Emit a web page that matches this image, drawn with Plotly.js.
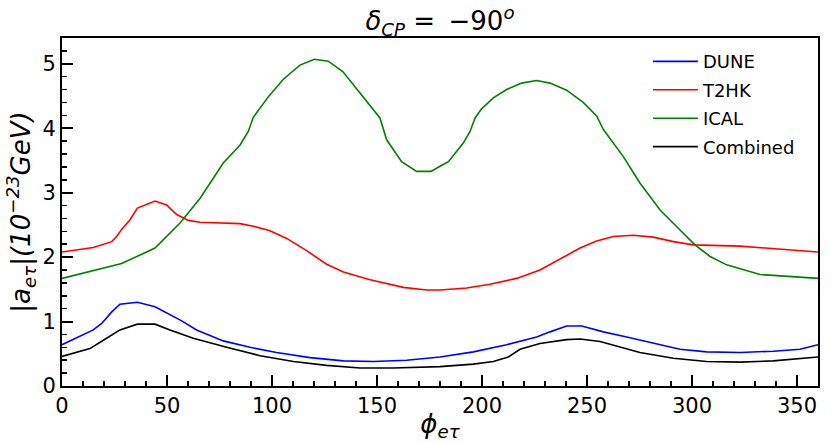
<!DOCTYPE html>
<html>
<head>
<meta charset="utf-8">
<script src="https://cdn.plot.ly/plotly-3.0.1.min.js"></script>
<style>
  html, body { margin: 0; padding: 0; background: #fff; }
  #chart { width: 831px; height: 442px; }
</style>
</head>
<body>
<div id="chart"></div>
<script>
// values
const phiDune = [0, 8.6, 14.9, 18.9, 23.7, 27.6, 35.9, 44.3, 49.8, 57, 64.1, 76.8, 89.5, 102.2, 118.1, 134, 148.3, 164.1, 180,
  195.9, 211.7, 226, 232.4, 240.3, 247.5, 257.8, 268.9, 281.6, 294.3, 307, 322.9, 338.7, 351.4, 360];
const dune = [0.64, 0.77, 0.87, 0.97, 1.15, 1.27, 1.30, 1.23, 1.14, 1.01, 0.87, 0.70, 0.60, 0.52, 0.44, 0.39, 0.38, 0.40, 0.45,
  0.53, 0.64, 0.76, 0.84, 0.93, 0.93, 0.84, 0.76, 0.67, 0.57, 0.53, 0.52, 0.54, 0.57, 0.64];

const phiT2hk = [0, 14.9, 23.7, 26, 28.4, 32.4, 35.9, 44.3, 49.8, 54.6, 60.2, 65.7, 84.8, 91.1, 99, 107, 116.5, 126, 134, 146.7,
  162.5, 173.7, 180, 192.7, 203.8, 216.5, 227.6, 237.1, 246.7, 254.6, 262.5, 272, 281.6, 291.1, 300.6, 322.9, 338.7, 360];
const t2hk = [2.08, 2.15, 2.24, 2.32, 2.43, 2.58, 2.76, 2.87, 2.81, 2.66, 2.57, 2.54, 2.52, 2.48, 2.41, 2.29, 2.10, 1.89, 1.77, 1.65,
  1.53, 1.49, 1.49, 1.52, 1.58, 1.67, 1.80, 1.97, 2.14, 2.25, 2.32, 2.34, 2.31, 2.24, 2.19, 2.17, 2.13, 2.08];

const phiIcal = [0, 28.4, 44.3, 56.2, 65.7, 76.8, 84.8, 88.7, 91.1, 98.3, 105.4, 113.3, 120.2, 126.8, 133.7, 143.5, 151.4, 154.6,
  161.7, 168.9, 175.7, 180, 184, 191.1, 194.3, 196.7, 199.8, 205.4, 211.7, 218.9, 226, 232.4, 240.3, 248.2, 254.6, 257.8,
  267.3, 275.2, 284.8, 294.3, 301.4, 308.6, 316.5, 332.4, 360];
const ical = [1.67, 1.90, 2.14, 2.53, 2.91, 3.46, 3.74, 3.95, 4.17, 4.49, 4.76, 4.98, 5.07, 5.04, 4.88, 4.49, 4.16, 3.82,
  3.48, 3.33, 3.33, 3.41, 3.48, 3.77, 3.95, 4.16, 4.30, 4.47, 4.60, 4.70, 4.74, 4.70, 4.59, 4.40, 4.19, 3.98,
  3.56, 3.15, 2.73, 2.42, 2.19, 2.01, 1.88, 1.73, 1.67];

const phiComb = [0, 13.3, 19.7, 27.6, 35.9, 44.3, 51.4, 62.5, 78.4, 94.3, 110.2, 126, 141.9, 157.8, 180,
  195.9, 205.4, 212.5, 218.1, 227.6, 240.3, 246.7, 256.2, 265.7, 275.2, 291.1, 307, 322.9, 338.7, 360];
const combined = [0.46, 0.58, 0.71, 0.87, 0.96, 0.96, 0.87, 0.74, 0.60, 0.47, 0.38, 0.32, 0.28, 0.28, 0.30,
  0.34, 0.38, 0.45, 0.57, 0.66, 0.72, 0.73, 0.69, 0.60, 0.52, 0.43, 0.38, 0.37, 0.39, 0.45];

const xTicks = [0, 50, 100, 150, 200, 250, 300, 350];
const yTicks = [0, 1, 2, 3, 4, 5];

const font = "DejaVu Sans, sans-serif";

function series(x, y, name, color) {
  return {
    x: x, y: y, name: name, legendgroup: name,
    type: "scatter", mode: "lines",
    line: { color: color, width: 1.6 },
  };
}

const traces = [
  series(phiDune, dune, "DUNE", "#0000ff"),
  series(phiT2hk, t2hk, "T2HK", "#ff0000"),
  series(phiIcal, ical, "ICAL", "#008000"),
  series(phiComb, combined, "Combined", "#000000"),
];

const axisCommon = {
  showline: true, linecolor: "#000", linewidth: 2, mirror: true,
  ticks: "inside", ticklen: 11, tickwidth: 2, tickcolor: "#000",
  showgrid: false, zeroline: false,
  tickfont: { family: font, size: 21, color: "#000" },
};

const layout = {
  width: 831, height: 442,
  margin: { l: 62, r: 13, t: 38, b: 56 },
  paper_bgcolor: "#fff", plot_bgcolor: "#fff",
  font: { family: font, color: "#000" },
  title: {
    text: "<i>δ<sub>CP</sub></i> = \u2009−90<sup><i>o</i></sup>",
    font: { family: font, size: 26, color: "#000" },
    x: 0.5, xref: "paper", xanchor: "center", y: 0.952, yanchor: "middle",
  },
  xaxis: Object.assign({}, axisCommon, {
    range: [0, 360],
    tickvals: xTicks,
    ticktext: xTicks.map(String),
    minor: { dtick: 10, ticks: "inside", ticklen: 5, tickwidth: 1.5, tickcolor: "#000" },
    title: { text: "<i>ϕ<sub>eτ</sub></i>", font: { family: font, size: 26 }, standoff: 0 },
  }),
  yaxis: Object.assign({}, axisCommon, {
    range: [0, 5.4],
    tickvals: yTicks,
    ticktext: yTicks.map(String),
    minor: { dtick: 0.2, ticks: "inside", ticklen: 5, tickwidth: 1.5, tickcolor: "#000" },
    title: { text: "<i>|a<sub>eτ</sub>|(10<sup>−23</sup>GeV)</i>", font: { family: font, size: 26 }, standoff: 4 },
  }),
  legend: {
    x: 0.775, y: 0.985, xanchor: "left", yanchor: "top",
    bgcolor: "rgba(0,0,0,0)", borderwidth: 0,
    font: { family: font, size: 18, color: "#000" },
    tracegroupgap: 2, itemwidth: 45,
  },
  showlegend: true,
};

Plotly.newPlot("chart", traces, layout, { displayModeBar: false, staticPlot: true });
</script>
</body>
</html>
